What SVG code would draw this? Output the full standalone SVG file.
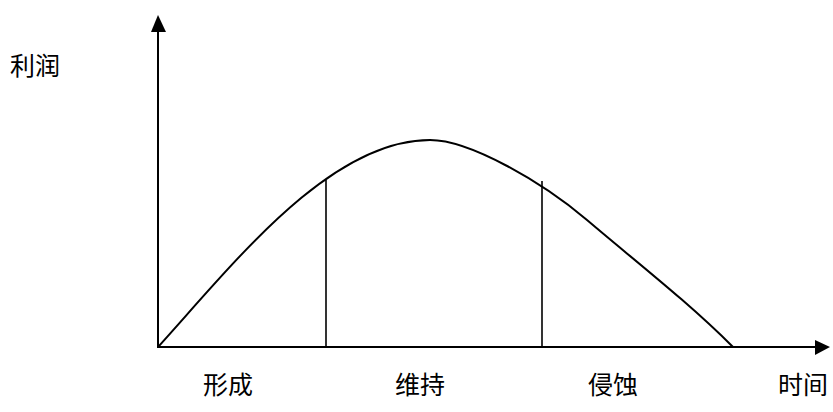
<svg xmlns="http://www.w3.org/2000/svg" width="833" height="412" viewBox="0 0 833 412">
<style>
.ax{stroke:#000;stroke-width:2;fill:none}
.ln{stroke:#000;stroke-width:1.6;fill:none}
.cv{stroke:#000;stroke-width:2;fill:none}
.t{font-family:"Noto Sans CJK SC","Noto Sans CJK JP",sans-serif;font-size:25px;fill:#000}
</style>
<rect width="833" height="412" fill="#fff"/>
<g id="connectors">
<line class="ax" x1="158" y1="347" x2="158" y2="30"/>
<polygon points="158,15 151,32 166,32" fill="#000"/>
<line class="ax" x1="157" y1="347" x2="816" y2="347"/>
<polygon points="830,347 815,340 815,355" fill="#000"/>
<path class="cv" d="M158,347 C235,262 330,140 430,140 C470,140 542,182 587,220 C637,262.5 688,302 733,347"/>
<line class="ln" x1="326" y1="180" x2="326" y2="347"/>
<line class="ln" x1="542" y1="181" x2="542" y2="347"/>
</g>
<g id="label-profit"><text class="t" x="10" y="75">利润</text></g>
<g id="label-form"><text class="t" x="203" y="394">形成</text></g>
<g id="label-maintain"><text class="t" x="395" y="394">维持</text></g>
<g id="label-erode"><text class="t" x="588" y="394">侵蚀</text></g>
<g id="label-time"><text class="t" x="778" y="394">时间</text></g>
</svg>
